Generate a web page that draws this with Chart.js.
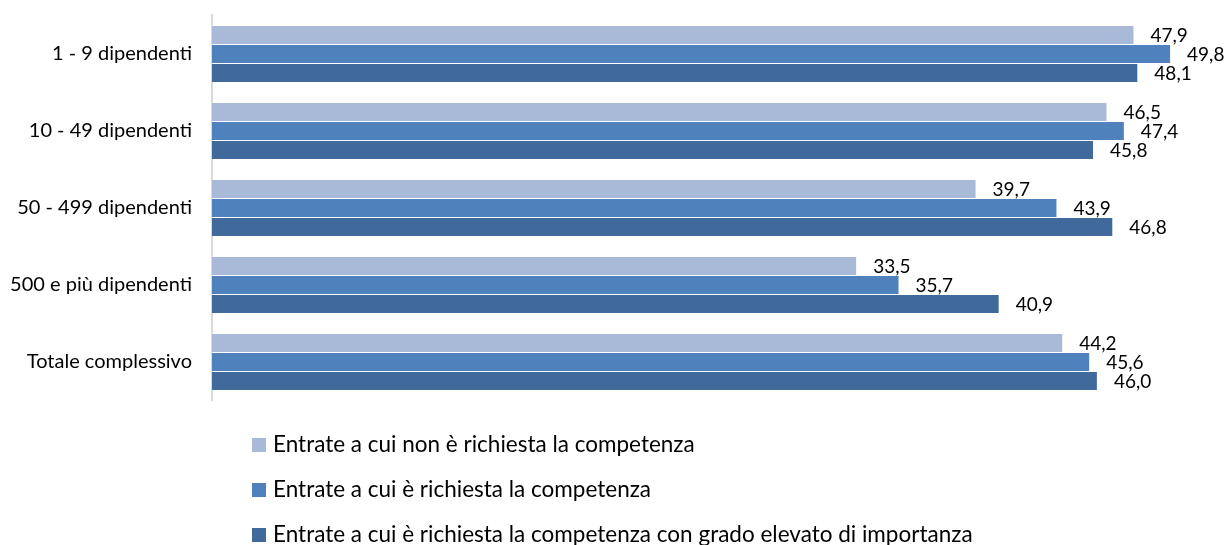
<!DOCTYPE html>
<html>
<head>
<meta charset="utf-8">
<script src="https://cdn.jsdelivr.net/npm/chart.js@4/dist/chart.umd.min.js"></script>
<style>
  html, body { margin: 0; padding: 0; background: #fff; }
  #wrap { width: 1226px; height: 545px; }
</style>
</head>
<body>
<div id="wrap"><canvas id="chart"></canvas></div>
<script>
var categories = ['1 - 9 dipendenti', '10 - 49 dipendenti', '50 - 499 dipendenti', '500 e più dipendenti', 'Totale complessivo'];
var seriesNames = [
    'Entrate a cui non è richiesta la competenza',
    'Entrate a cui è richiesta la competenza',
    'Entrate a cui è richiesta la competenza con grado elevato di importanza'
];
var nonRichiesta = [47.9, 46.5, 39.7, 33.5, 44.2];
var richiesta = [49.8, 47.4, 43.9, 35.7, 45.6];
var gradoElevato = [48.1, 45.8, 46.8, 40.9, 46.0];
var seriesColors = ['#A9B9D8', '#4F81BD', '#416A9C'];

var fontFamily = 'Lato, "Open Sans", sans-serif';

function fmt(v) {
    return v.toFixed(1).replace('.', ',');
}

// value labels to the right of each bar
var valueLabels = {
    id: 'valueLabels',
    afterDatasetsDraw: function (chart) {
        var ctx = chart.ctx;
        ctx.save();
        ctx.font = '19px ' + fontFamily;
        ctx.fillStyle = '#000';
        ctx.textAlign = 'left';
        ctx.textBaseline = 'middle';
        chart.data.datasets.forEach(function (ds, i) {
            chart.getDatasetMeta(i).data.forEach(function (bar, j) {
                ctx.fillText(fmt(ds.data[j]), bar.x + 16, bar.y + 1);
            });
        });
        ctx.restore();
    }
};

// legend drawn as a single column under the plot
var columnLegend = {
    id: 'columnLegend',
    afterDraw: function (chart) {
        var ctx = chart.ctx;
        ctx.save();
        ctx.font = '22.5px ' + fontFamily;
        ctx.textAlign = 'left';
        ctx.textBaseline = 'alphabetic';
        chart.data.datasets.forEach(function (ds, i) {
            var y = 445 + i * 45;
            ctx.fillStyle = ds.backgroundColor;
            ctx.fillRect(252, y - 7, 14, 14);
            ctx.fillStyle = '#000';
            ctx.fillText(ds.label, 273, y + 7);
        });
        ctx.restore();
    }
};

var ctx1 = document.getElementById('chart').getContext('2d');
new Chart(ctx1, {
    type: 'bar',
    data: {
        labels: categories,
        datasets: [
            { label: seriesNames[0], data: nonRichiesta, backgroundColor: seriesColors[0] },
            { label: seriesNames[1], data: richiesta, backgroundColor: seriesColors[1] },
            { label: seriesNames[2], data: gradoElevato, backgroundColor: seriesColors[2] }
        ].map(function (d) {
            d.borderColor = 'rgba(255,255,255,0.35)';
            d.borderWidth = { top: 1, right: 1, bottom: 0, left: 0 };
            d.borderSkipped = false;
            d.categoryPercentage = 0.74;
            d.barPercentage = 1;
            return d;
        })
    },
    options: {
        indexAxis: 'y',
        responsive: true,
        maintainAspectRatio: false,
        animation: false,
        layout: { padding: { top: 15, right: 1, bottom: 145, left: 0 } },
        plugins: {
            legend: { display: false },
            tooltip: { enabled: false }
        },
        scales: {
            x: {
                display: false,
                min: 0,
                max: 52.6
            },
            y: {
                afterFit: function (scale) {
                    scale.width = 212;
                    scale.paddingTop = 0;
                    scale.paddingBottom = 0;
                },
                grid: { display: false, drawTicks: false },
                border: { display: true, color: '#D9D9D9', width: 2 },
                ticks: {
                    padding: 20,
                    color: '#000',
                    font: { family: fontFamily, size: 20 }
                }
            }
        }
    },
    plugins: [valueLabels, columnLegend]
});
</script>
</body>
</html>
